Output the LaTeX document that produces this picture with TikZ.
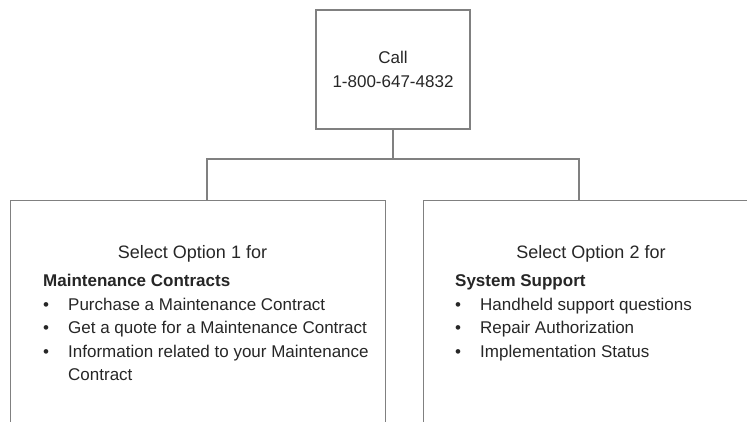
\documentclass[tikz,border=0pt]{standalone}
\usepackage{fontspec}
\setmainfont{Liberation Sans}
\usetikzlibrary{positioning}
\tikzstyle{menubox} = [rectangle, draw=black!50, line width=1.3pt, fill=none]
\tikzstyle{line} = [draw=black!50, line width=1.3pt]
\tikzstyle{optlist} = [anchor=base west, inner sep=0, font=\fontsize{17}{23.5}\selectfont]
\newcommand{\optitem}[1]{\makebox[25pt][l]{\textbullet}#1}

\begin{document}
\begin{tikzpicture}[x=1pt, y=-1pt, font=\fontsize{18}{23.5}\selectfont, text=black!85]
            \clip (0,0) rectangle (747,421);
            \node[menubox, minimum width=154pt, minimum height=119pt, align=center, font=\fontsize{17}{24}\selectfont] (call) at (393,69.5) {Call\\1-800-647-4832};
            \node[menubox, anchor=north west, minimum width=375pt, minimum height=270pt] (opt1) at (10,200) {};
            \node[menubox, anchor=north west, minimum width=340pt, minimum height=270pt] (opt2) at (423,200) {};

            \node[anchor=base] (opt1head) at (192.5,258.5) {Select Option 1 for};
            \node[optlist] (opt1list) at (43,286.5) {\begin{tabular}[t]{@{}l@{}}
                \textbf{Maintenance Contracts}\\
                \optitem{Purchase a Maintenance Contract}\\
                \optitem{Get a quote for a Maintenance Contract}\\
                \optitem{Information related to your Maintenance}\\
                \hspace*{25pt}Contract
            \end{tabular}};
            \node[anchor=base] (opt2head) at (591,258.5) {Select Option 2 for};
            \node[optlist] (opt2list) at (455,286.5) {\begin{tabular}[t]{@{}l@{}}
                \textbf{System Support}\\
                \optitem{Handheld support questions}\\
                \optitem{Repair Authorization}\\
                \optitem{Implementation Status}
            \end{tabular}};

            \coordinate (lj) at (207,159);
            \coordinate (rj) at (579,159);
            \draw[line] (call.south) -- (call.south |- lj);
            \draw[line] (lj |- opt1.north) -- (lj) -- (rj) -- (rj |- opt2.north);
        \end{tikzpicture}
\end{document}
